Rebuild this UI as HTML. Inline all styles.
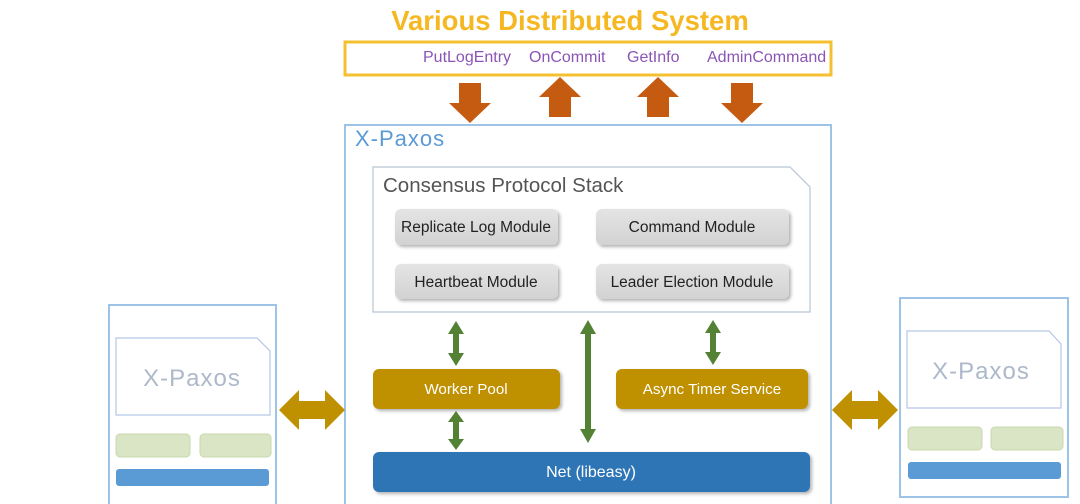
<!DOCTYPE html>
<html><head><meta charset="utf-8"><style>
html,body{margin:0;padding:0;background:#fff;width:1080px;height:504px;overflow:hidden}
svg{display:block;font-family:"Liberation Sans",sans-serif}
</style></head><body>
<svg width="1080" height="504" viewBox="0 0 1080 504" xmlns="http://www.w3.org/2000/svg">
<defs>
<linearGradient id="g" x1="0" y1="0" x2="0" y2="1"><stop offset="0" stop-color="#e4e4e4"/><stop offset="1" stop-color="#d2d2d2"/></linearGradient>
<filter id="sh" x="-10%" y="-20%" width="130%" height="160%"><feDropShadow dx="2" dy="2" stdDeviation="1.5" flood-color="#000" flood-opacity="0.3"/></filter>
</defs>
<text x="570" y="30" text-anchor="middle" font-size="27.5" font-weight="bold" fill="#f5b822">Various Distributed System</text>
<rect x="345" y="42" width="486" height="33" fill="none" stroke="#f5c030" stroke-width="3"/>
<g font-size="16" fill="#8a55b5">
<text x="423" y="62">PutLogEntry</text><text x="529" y="62">OnCommit</text><text x="627" y="62">GetInfo</text>
<svg x="700" y="40" width="130" height="34"><text x="7" y="22">AdminCommand</text></svg>
</g>
<g fill="#c55a11">
<polygon points="459,83 481,83 481,103 491,103 470,123 449,103 459,103"/>
<polygon points="549,117 571,117 571,97 581,97 560,77 539,97 549,97"/>
<polygon points="647,117 669,117 669,97 679,97 658,77 637,97 647,97"/>
<polygon points="731,83 753,83 753,103 763,103 742,123 721,103 731,103"/>
</g>
<rect x="345" y="125" width="486" height="385" fill="none" stroke="#9dc3e6" stroke-width="2"/>
<text x="355" y="146" font-size="22" letter-spacing="1" fill="#5b9bd5">X-Paxos</text>
<polygon points="373,167 790,167 810,187 810,312 373,312" fill="#fff" stroke="#b8c4d4" stroke-width="1.2"/>
<text x="383" y="192" font-size="20.5" fill="#555">Consensus Protocol Stack</text>
<g filter="url(#sh)" fill="url(#g)">
<rect x="395" y="209" width="163" height="36" rx="6"/>
<rect x="596" y="209" width="193" height="36" rx="6"/>
<rect x="395" y="264" width="163" height="35" rx="6"/>
<rect x="596" y="264" width="193" height="35" rx="6"/>
</g>
<g font-size="15.5" fill="#222" text-anchor="middle">
<text x="476" y="232">Replicate Log Module</text><text x="692" y="232">Command Module</text>
<text x="476" y="287">Heartbeat Module</text><text x="692" y="287">Leader Election Module</text>
</g>
<g fill="#548235">
<polygon points="456,321 464,334 459,334 459,353 464,353 456,366 448,353 453,353 453,334 448,334"/>
<polygon points="456,411 464,422 459,422 459,439 464,439 456,450 448,439 453,439 453,422 448,422"/>
<polygon points="713,320 721,333 716,333 716,352 721,352 713,365 705,352 710,352 710,333 705,333"/>
<polygon points="588,320 596,334 591,334 591,429 596,429 588,443 580,429 585,429 585,334 580,334"/>
</g>
<g filter="url(#sh)">
<rect x="373" y="369" width="187" height="40" rx="6" fill="#bf9000"/>
<rect x="616" y="369" width="192" height="40" rx="6" fill="#bf9000"/>
<rect x="373" y="452" width="437" height="40" rx="6" fill="#2e75b6"/>
</g>
<g font-size="15.2" fill="#fff" text-anchor="middle">
<text x="466" y="394">Worker Pool</text><text x="712" y="394">Async Timer Service</text>
<text x="591" y="477" font-size="16">Net (libeasy)</text>
</g>
<rect x="109" y="305" width="167" height="205" fill="none" stroke="#9dc3e6" stroke-width="2"/>
<polygon points="116,338 257,338 270,351 270,415 116,415" fill="#fff" stroke="#b4c7e7" stroke-width="1.2"/>
<text x="192" y="386" text-anchor="middle" font-size="24" letter-spacing="1" fill="#adb9ca">X-Paxos</text>
<rect x="116" y="434" width="74" height="23" rx="4" fill="#d9e5c5" stroke="#c9d8b0"/>
<rect x="200" y="434" width="71" height="23" rx="4" fill="#d9e5c5" stroke="#c9d8b0"/>
<rect x="116" y="469" width="153" height="17" rx="3" fill="#5b9bd5"/>
<polygon points="279,410 299,390 299,401 325,401 325,390 345,410 325,430 325,419 299,419 299,430" fill="#bf9000"/>
<rect x="900" y="298" width="168" height="199" fill="none" stroke="#9dc3e6" stroke-width="2"/>
<polygon points="907,331 1049,331 1061,344 1061,408 907,408" fill="#fff" stroke="#b4c7e7" stroke-width="1.2"/>
<text x="981" y="379" text-anchor="middle" font-size="24" letter-spacing="1" fill="#adb9ca">X-Paxos</text>
<rect x="908" y="427" width="74" height="23" rx="4" fill="#d9e5c5" stroke="#c9d8b0"/>
<rect x="991" y="427" width="72" height="23" rx="4" fill="#d9e5c5" stroke="#c9d8b0"/>
<rect x="908" y="462" width="153" height="17" rx="3" fill="#5b9bd5"/>
<polygon points="832,410 852,390 852,401 878,401 878,390 898,410 878,430 878,419 852,419 852,430" fill="#bf9000"/>
</svg>
</body></html>
